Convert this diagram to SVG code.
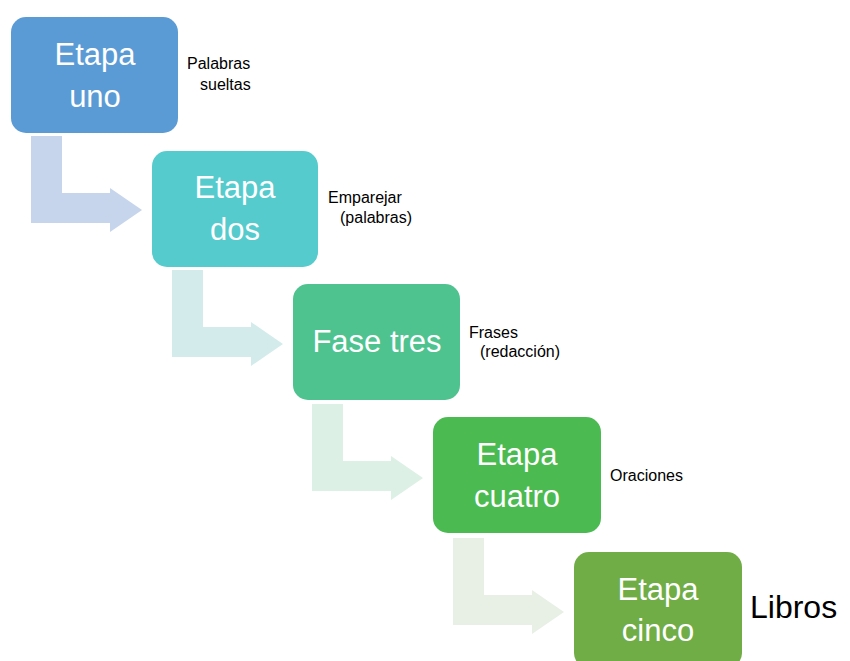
<svg xmlns="http://www.w3.org/2000/svg" width="850" height="661" viewBox="0 0 850 661">
<style>
.box text{font-family:"Liberation Sans",Arial,sans-serif;font-size:31px;fill:#fff;text-anchor:middle}
.lbl{font-family:"Liberation Sans",Arial,sans-serif;font-size:16px;fill:#000}
.big{font-family:"Liberation Sans",Arial,sans-serif;font-size:32px;fill:#000}
</style>
<defs>
<path id="arr" d="M0,0 H31 V57 H79 V52 L111,74 L79,96 V87 H0 Z"/>
</defs>
<rect width="850" height="661" fill="#fff"/>
<g id="connectors">
<use href="#arr" x="31" y="136" fill="#C6D5EB"/>
<use href="#arr" x="172" y="270" fill="#D3ECEB"/>
<use href="#arr" x="312" y="404" fill="#DDF0E5"/>
<use href="#arr" x="453" y="538" fill="#E8F0E5"/>
</g>
<g id="n1" class="box">
<rect x="11" y="17" width="167" height="116" rx="15" fill="#5B9BD5"/>
<text x="95" y="65">Etapa</text><text x="95" y="107">uno</text>
</g>
<g id="n2" class="box">
<rect x="152" y="151" width="166" height="116" rx="15" fill="#55CBCD"/>
<text x="235" y="198">Etapa</text><text x="235" y="240">dos</text>
</g>
<g id="n3" class="box">
<rect x="293" y="284" width="167" height="116" rx="15" fill="#4EC38F"/>
<text x="377" y="352">Fase tres</text>
</g>
<g id="n4" class="box">
<rect x="433" y="417" width="168" height="116" rx="15" fill="#4BBA51"/>
<text x="517" y="465">Etapa</text><text x="517" y="507">cuatro</text>
</g>
<g id="n5" class="box">
<rect x="574" y="552" width="168" height="116" rx="15" fill="#70AD47"/>
<text x="658" y="600">Etapa</text><text x="658" y="641">cinco</text>
</g>
<g id="labels">
<text class="lbl" x="187" y="69">Palabras</text>
<text class="lbl" x="200" y="90">sueltas</text>
<text class="lbl" x="328" y="203">Emparejar</text>
<text class="lbl" x="340" y="223">(palabras)</text>
<text class="lbl" x="469" y="338">Frases</text>
<text class="lbl" x="480" y="357">(redacción)</text>
<text class="lbl" x="610" y="481">Oraciones</text>
<text class="big" x="750" y="618">Libros</text>
</g>
</svg>
